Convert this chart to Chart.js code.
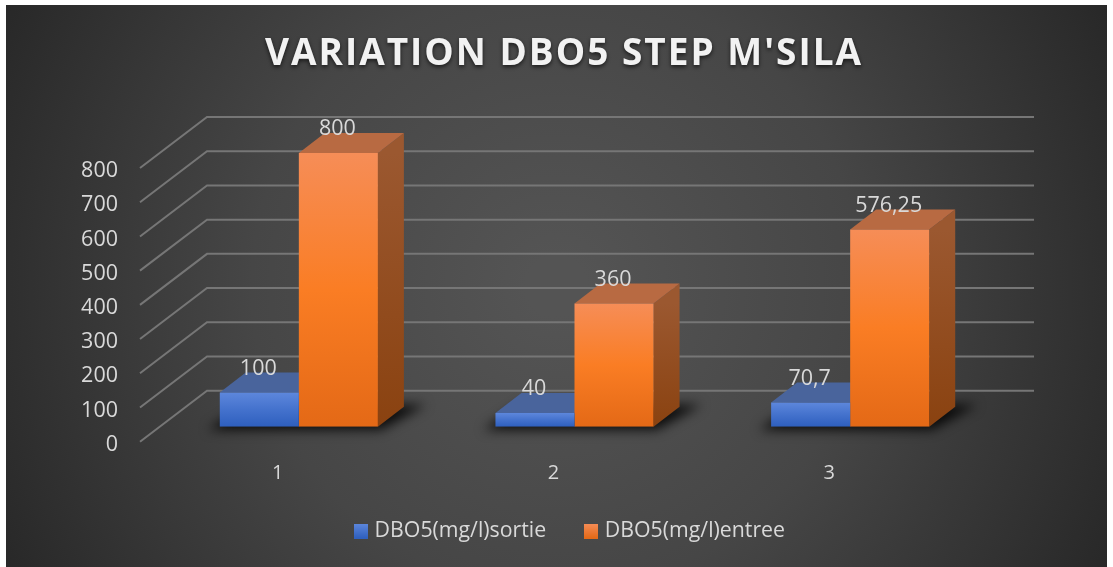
<!DOCTYPE html>
<html>
<head>
<meta charset="utf-8">
<style>
  html, body { margin: 0; padding: 0; background: #fff; }
  canvas { display: block; }
</style>
<script src="https://cdn.jsdelivr.net/npm/chart.js@4"></script>
</head>
<body>
<canvas id="dboChart" width="1113" height="567"></canvas>
<script>
const chartTitle = "VARIATION DBO5 STEP M'SILA";
const categories = ['1', '2', '3'];
const sortieLabel = 'DBO5(mg/l)sortie';
const entreeLabel = 'DBO5(mg/l)entree';
const sortieValues = [100, 40, 70.7];
const entreeValues = [800, 360, 576.25];

const FONT = '"Open Sans", sans-serif';
const TEXT_COLOR = 'rgb(217, 217, 217)';

// decalage "3D" : profondeur des barres et du plancher
const BAR_DX = 26, BAR_DY = -20;
const FLOOR_FRONT_DX = -21, FLOOR_FRONT_DY = 15;
const FLOOR_BACK_DX = 46, FLOOR_BACK_DY = -36;

const BLUE = {
    front: ['rgb(93, 135, 220)', 'rgb(68, 114, 205)', 'rgb(46, 95, 190)'],
    top: 'rgb(73, 100, 156)',
    side: ['rgb(50, 75, 125)', 'rgb(35, 60, 110)']
};
const ORANGE = {
    front: ['rgb(246, 141, 87)', 'rgb(250, 125, 36)', 'rgb(228, 105, 22)'],
    top: 'rgb(184, 106, 66)',
    side: ['rgb(155, 88, 48)', 'rgb(138, 66, 16)']
};

function frontGradient(chart, palette, value) {
    const y = chart.scales.y;
    const g = chart.ctx.createLinearGradient(0, y.getPixelForValue(value), 0, y.getPixelForValue(0));
    g.addColorStop(0, palette.front[0]);
    g.addColorStop(0.5, palette.front[1]);
    g.addColorStop(1, palette.front[2]);
    return g;
}

function barFill(palette) {
    return ctx => {
        if (!ctx.chart.scales.y || ctx.parsed === undefined) return palette.front[1];
        return frontGradient(ctx.chart, palette, ctx.parsed.y);
    };
}

function legendSwatch(palette) {
    const c = document.createElement('canvas');
    c.width = 14;
    c.height = 15;
    const g2 = c.getContext('2d');
    const g = g2.createLinearGradient(0, 0, 0, 15);
    g.addColorStop(0, palette.front[0]);
    g.addColorStop(1, palette.front[2]);
    g2.fillStyle = g;
    g2.fillRect(0, 0, 14, 15);
    return c;
}

function poly(ctx, pts, fill) {
    ctx.beginPath();
    pts.forEach((p, i) => i ? ctx.lineTo(p[0], p[1]) : ctx.moveTo(p[0], p[1]));
    ctx.closePath();
    ctx.fillStyle = fill;
    ctx.fill();
}

// fond + titre
const backdrop = {
    id: 'backdrop',
    afterLayout(chart) {
        // la legende n'est pas centree sur le canvas dans l'original
        const lg = chart.legend;
        const labels = lg.options.labels;
        lg.left += 42.5;
        lg.right += 42.5;
        lg.top = 531 - labels.padding - labels.font.size / 2;
    },
    beforeDraw(chart) {
        const ctx = chart.ctx;
        ctx.save();
        const g = ctx.createRadialGradient(556, 286, 30, 556, 286, 640);
        g.addColorStop(0, 'rgb(84, 84, 84)');
        g.addColorStop(0.45, 'rgb(70, 70, 70)');
        g.addColorStop(1, 'rgb(38, 38, 38)');
        ctx.fillStyle = g;
        ctx.fillRect(6, 5, 1101, 562);

        ctx.font = 'bold 37px ' + FONT;
        ctx.letterSpacing = '2px';
        ctx.textAlign = 'center';
        ctx.textBaseline = 'middle';
        ctx.fillStyle = 'rgb(242, 242, 242)';
        ctx.shadowColor = 'rgba(0, 0, 0, 0.65)';
        ctx.shadowBlur = 4;
        ctx.shadowOffsetY = 2;
        ctx.fillText(chartTitle, 564, 54);
        ctx.restore();
    }
};

// grille en perspective, ombres et faces laterales des barres
const depth = {
    id: 'depth',
    beforeDatasetsDraw(chart) {
        const ctx = chart.ctx;
        const y = chart.scales.y;
        const area = chart.chartArea;
        ctx.save();
        ctx.strokeStyle = 'rgb(118, 118, 118)';
        ctx.lineWidth = 2;
        y.ticks.forEach(t => {
            const py = y.getPixelForValue(t.value);
            ctx.beginPath();
            ctx.moveTo(area.left + FLOOR_FRONT_DX, py + FLOOR_FRONT_DY);
            ctx.lineTo(area.left + FLOOR_BACK_DX, py + FLOOR_BACK_DY);
            ctx.lineTo(area.right + FLOOR_BACK_DX, py + FLOOR_BACK_DY);
            ctx.stroke();
        });

        // ombre au sol
        const first = chart.getDatasetMeta(0).data;
        const second = chart.getDatasetMeta(1).data;
        ctx.save();
        ctx.filter = 'blur(6px)';
        first.forEach((bar, i) => {
            const l = bar.x - bar.width / 2;
            const r = second[i].x + second[i].width / 2;
            const b = bar.base;
            poly(ctx, [[l - 12, b + 3], [r + 3, b + 3], [r + BAR_DX + 22, b + BAR_DY - 2], [l + BAR_DX, b + BAR_DY - 2]], 'rgba(0, 0, 0, 0.85)');
        });
        ctx.restore();

        [[0, BLUE], [1, ORANGE]].forEach(([idx, pal]) => {
            chart.getDatasetMeta(idx).data.forEach(bar => {
                const l = bar.x - bar.width / 2;
                const r = bar.x + bar.width / 2;
                const t = bar.y;
                const b = bar.base;
                const g = ctx.createLinearGradient(0, t, 0, b);
                g.addColorStop(0, pal.side[0]);
                g.addColorStop(1, pal.side[1]);
                poly(ctx, [[r, t], [r + BAR_DX, t + BAR_DY], [r + BAR_DX, b + BAR_DY], [r, b]], g);
                poly(ctx, [[l, t], [r, t], [r + BAR_DX, t + BAR_DY], [l + BAR_DX, t + BAR_DY]], pal.top);
            });
        });
        ctx.restore();
    },
    afterDatasetsDraw(chart) {
        const ctx = chart.ctx;
        ctx.save();
        ctx.font = '21.5px ' + FONT;
        ctx.fillStyle = TEXT_COLOR;
        ctx.textAlign = 'center';
        ctx.textBaseline = 'middle';
        chart.data.datasets.forEach((ds, idx) => {
            chart.getDatasetMeta(idx).data.forEach((bar, i) => {
                const txt = String(ds.data[i]).replace('.', ',');
                ctx.fillText(txt, bar.x - 1, bar.y - 24);
            });
        });
        ctx.restore();
    }
};

new Chart(document.getElementById('dboChart'), {
    type: 'bar',
    data: {
        labels: categories,
        datasets: [
            { label: sortieLabel, data: sortieValues, backgroundColor: barFill(BLUE), swatch: legendSwatch(BLUE) },
            { label: entreeLabel, data: entreeValues, backgroundColor: barFill(ORANGE), swatch: legendSwatch(ORANGE) }
        ]
    },
    options: {
        responsive: false,
        animation: false,
        layout: { padding: { left: 70, right: 125, top: 153, bottom: 7 } },
        datasets: { bar: { categoryPercentage: 0.5735, barPercentage: 1 } },
        scales: {
            x: {
                grid: { display: false, drawTicks: false },
                border: { display: false },
                ticks: { color: TEXT_COLOR, font: { family: FONT, size: 20 }, padding: 35, labelOffset: -21, maxRotation: 0 },
                afterFit(scale) { scale.height = 60; }
            },
            y: {
                min: 0,
                max: 800,
                grid: { display: false, drawTicks: false },
                border: { display: false },
                ticks: { stepSize: 100, color: TEXT_COLOR, font: { family: FONT, size: 21.5 }, padding: 43, labelOffset: 18 },
                afterFit(scale) { scale.width = 91; }
            }
        },
        plugins: {
            title: { display: false },
            tooltip: { enabled: false },
            legend: {
                position: 'bottom',
                labels: {
                    color: TEXT_COLOR,
                    font: { family: FONT, size: 21.3 },
                    usePointStyle: true,
                    pointStyleWidth: 6,
                    padding: 42,
                    generateLabels(chart) {
                        return chart.data.datasets.map((ds, i) => ({
                            text: ds.label,
                            fontColor: TEXT_COLOR,
                            pointStyle: ds.swatch,
                            datasetIndex: i,
                            lineWidth: 0
                        }));
                    }
                }
            }
        }
    },
    plugins: [backdrop, depth]
});
</script>
</body>
</html>
